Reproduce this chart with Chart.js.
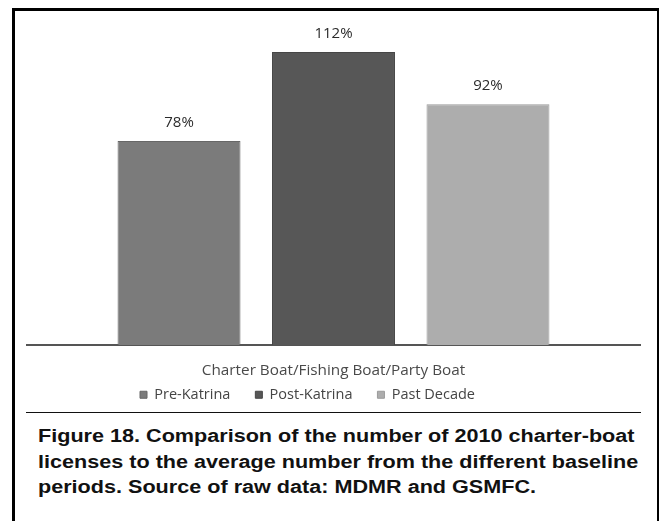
<!DOCTYPE html>
<html>
<head>
<meta charset="utf-8">
<script src="https://cdn.jsdelivr.net/npm/chart.js@4/dist/chart.umd.min.js"></script>
<style>
  html, body { margin: 0; padding: 0; background: #fff; }
  body { width: 659px; height: 521px; position: relative; overflow: hidden; }
  #frame {
    position: absolute; left: 12px; top: 8px; width: 642px; height: 600px;
    border: 3px solid #000; box-sizing: content-box;
  }
  #chartBox { position: absolute; left: 0; top: 0; width: 659px; height: 412px; }
  #rule { position: absolute; left: 26px; top: 412px; width: 615px; height: 1px; background: #111; }
  #caption {
    position: absolute; left: 38px; top: 424px; white-space: nowrap;
    font-family: "Liberation Sans", Arial, sans-serif; font-weight: bold;
    font-size: 18px; line-height: 25.5px; color: #111;
    transform: scaleX(1.2); transform-origin: 0 0;
  }
</style>
</head>
<body>
<div id="frame"></div>
<div id="chartBox"><canvas id="licenseChart"></canvas></div>
<div id="rule"></div>
<div id="caption">Figure 18. Comparison of the number of 2010 charter-boat<br>licenses to the average number from the different baseline<br>periods. Source of raw data: MDMR and GSMFC.</div>
<script>
// datos
const categories = ['Charter Boat/Fishing Boat/Party Boat'];
const seriesNames = ['Pre-Katrina', 'Post-Katrina', 'Past Decade'];
const preKatrina = [78];
const postKatrina = [112];
const pastDecade = [92];

const fills = ['#7b7b7b', '#575757', '#adadad'];
const edges = ['#676767', '#464646', '#9b9b9b'];
const textFont = '"Open Sans", Lato, sans-serif';

// etiquetas de porcentaje encima de cada barra
const barLabels = {
    id: 'barLabels',
    afterDatasetsDraw: (chart) => {
        const ctx = chart.ctx;
        ctx.save();
        ctx.font = '15px ' + textFont;
        ctx.fillStyle = '#2b2b2b';
        ctx.textAlign = 'center';
        ctx.textBaseline = 'middle';
        chart.data.datasets.forEach((ds, i) => {
            chart.getDatasetMeta(i).data.forEach((bar, j) => {
                ctx.fillText(ds.data[j] + '%', bar.x, bar.y - 18.5);
            });
        });
        ctx.restore();
    }
};

// la leyenda original no está centrada: la corremos a la izquierda
const legendShift = {
    id: 'legendShift',
    afterLayout: (chart) => {
        chart.legend.left -= 26;
        chart.legend.right -= 26;
    }
};

const seriesData = [preKatrina, postKatrina, pastDecade];

new Chart(document.getElementById('licenseChart'), {
    type: 'bar',
    data: {
        labels: categories,
        datasets: seriesNames.map((name, i) => ({
            label: name,
            data: seriesData[i],
            backgroundColor: fills[i],
            borderColor: edges[i],
            borderWidth: 1,
            barPercentage: 0.796,
            categoryPercentage: 0.756
        }))
    },
    options: {
        responsive: true,
        maintainAspectRatio: false,
        animation: false,
        layout: {
            padding: { left: 27, right: 19, top: 31, bottom: 0 }
        },
        scales: {
            x: {
                grid: { display: false, drawTicks: false },
                border: { display: true, color: '#555', width: 2 },
                ticks: { display: false },
                title: {
                    display: true,
                    text: categories[0],
                    color: '#4a4a4a',
                    padding: { top: 16, bottom: -17 },
                    font: { family: textFont, size: 15.3 }
                }
            },
            y: {
                display: false,
                min: 0,
                max: 120
            }
        },
        plugins: {
            legend: {
                display: true,
                position: 'bottom',
                labels: {
                    boxWidth: 7,
                    boxHeight: 7,
                    color: '#444',
                    padding: 25,
                    font: { family: textFont, size: 14.5 }
                }
            },
            tooltip: { enabled: false }
        }
    },
    plugins: [barLabels, legendShift]
});
</script>
</body>
</html>
